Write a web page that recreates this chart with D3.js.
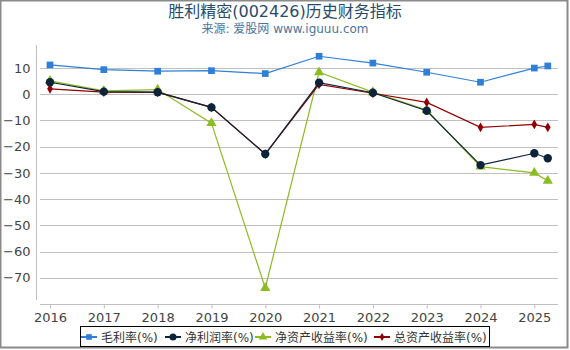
<!DOCTYPE html>
<html>
<head>
<meta charset="utf-8">
<script src="https://cdn.jsdelivr.net/npm/d3@7"></script>
<style>
  body { margin: 0; background: #fff; }
  svg { font-family: "DejaVu Sans", "Noto Sans CJK SC", sans-serif; }
</style>
</head>
<body>
<div id="chart"></div>
<script>
// Données
const years = [2016, 2017, 2018, 2019, 2020, 2021, 2022, 2023, 2024, 2025, 2025.25];
const yearTicks = [2016, 2017, 2018, 2019, 2020, 2021, 2022, 2023, 2024, 2025];
const yTicks = [10, 0, -10, -20, -30, -40, -50, -60, -70];

const maoLiLv = [11.2, 9.4, 8.8, 9.0, 7.9, 14.5, 11.9, 8.4, 4.6, 10.0, 10.8];
const jingLiRunLv = [4.6, 1.0, 0.8, -5.0, -22.8, 4.4, 0.6, -6.3, -27.0, -22.5, -24.4];
const jingZiChanLv = [5.1, 1.3, 1.8, -11.0, -73.9, 8.4, 0.8, -6.0, -27.6, -30.0, -33.0];
const zongZiChanLv = [2.1, 0.8, 0.7, -5.0, -22.8, 3.8, 0.4, -3.1, -12.6, -11.5, -12.6];

const series = [
    { name: "毛利率(%)", values: maoLiLv, color: "#2f7ed8", symbol: d3.symbolSquare, size: 45 },
    { name: "净利润率(%)", values: jingLiRunLv, color: "#0d233a", symbol: d3.symbolCircle, size: 55 },
    { name: "净资产收益率(%)", values: jingZiChanLv, color: "#8bbc21", symbol: d3.symbolTriangle, size: 45 },
    { name: "总资产收益率(%)", values: zongZiChanLv, color: "#910000", symbol: d3.symbolDiamond, size: 28 }
];
// ordre de dessin : le bleu nuit reste au-dessus
const drawOrder = [0, 2, 3, 1];

const W = 570, H = 350;
const svg = d3.select("#chart").append("svg")
    .attr("width", W).attr("height", H);

// cadre gris
svg.append("rect")
    .attr("x", 0.5).attr("y", 0.5)
    .attr("width", 567).attr("height", 347)
    .attr("fill", "none").attr("stroke", "#8a8a8a").attr("stroke-width", 2);

// titre
svg.append("text")
    .attr("x", 285).attr("y", 17)
    .attr("text-anchor", "middle")
    .attr("font-size", 16)
    .attr("fill", "#274b6d")
    .text("胜利精密(002426)历史财务指标");
svg.append("text")
    .attr("x", 285).attr("y", 33)
    .attr("text-anchor", "middle")
    .attr("font-size", 12)
    .attr("fill", "#4d759e")
    .text("来源: 爱股网 www.iguuu.com");

// échelles
const x = d3.scaleLinear().domain([2015.814, 2025.44]).range([40, 558]);
const y = d3.scaleLinear().domain([-80, 18.8]).range([304, 45]);

// grille horizontale
svg.append("g")
    .selectAll("line")
    .data(yTicks)
    .join("line")
    .attr("x1", 40).attr("x2", 558)
    .attr("y1", d => Math.round(y(d)) + 0.5)
    .attr("y2", d => Math.round(y(d)) + 0.5)
    .attr("stroke", "#c0c0c0").attr("stroke-width", 1);

// axe Y
const yAxis = svg.append("g")
    .attr("transform", "translate(36.5,0)")
    .call(d3.axisLeft(y).tickValues(yTicks).tickSize(0).tickPadding(6));
yAxis.select(".domain").remove();
yAxis.append("line")
    .attr("x1", 0).attr("x2", 0).attr("y1", 45).attr("y2", 300)
    .attr("stroke", "#c0c0c0");
yAxis.selectAll("text")
    .attr("font-size", 13).attr("fill", "#444")
    .attr("font-family", "DejaVu Sans, sans-serif");

// axe X
const xAxis = svg.append("g")
    .attr("transform", "translate(0,304.5)")
    .call(d3.axisBottom(x).tickValues(yearTicks).tickFormat(d3.format("d")).tickSize(4).tickPadding(4));
xAxis.select(".domain").attr("stroke", "#c0c0c0")
    .attr("d", "M40,0H558");
xAxis.selectAll(".tick line").attr("stroke", "#c0c0c0");
xAxis.selectAll("text")
    .attr("font-size", 13).attr("fill", "#444")
    .attr("font-family", "DejaVu Sans, sans-serif");

// courbes
const line = d3.line()
    .x((d, i) => x(years[i]))
    .y(d => y(d));

drawOrder.forEach(k => {
    const s = series[k];
    const g = svg.append("g");
    g.append("path")
        .datum(s.values)
        .attr("fill", "none")
        .attr("stroke", s.color)
        .attr("stroke-width", 1.2)
        .attr("d", line);
    g.selectAll("path.pt")
        .data(s.values)
        .join("path")
        .attr("class", "pt")
        .attr("transform", (d, i) => `translate(${x(years[i])},${y(d)})`)
        .attr("d", d3.symbol().type(s.symbol).size(s.size))
        .attr("fill", s.color);
});

// légende
const legend = svg.append("g");
legend.append("rect")
    .attr("x", 80.5).attr("y", 326.5)
    .attr("width", 409).attr("height", 20)
    .attr("fill", "#fff").attr("stroke", "#000").attr("stroke-width", 1);
const legendX = [89, 173, 263, 382];
series.forEach((s, i) => {
    const lg = legend.append("g").attr("transform", `translate(${legendX[i]},337)`);
    lg.append("line")
        .attr("x1", -8).attr("x2", 8)
        .attr("stroke", s.color).attr("stroke-width", 2);
    lg.append("path")
        .attr("d", d3.symbol().type(s.symbol).size(s.size * 0.7))
        .attr("fill", s.color);
    lg.append("text")
        .attr("x", 12).attr("y", 4.5)
        .attr("font-size", 12).attr("fill", "#333")
        .text(s.name);
});
</script>
</body>
</html>
